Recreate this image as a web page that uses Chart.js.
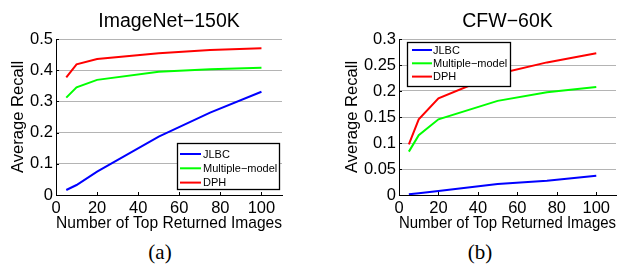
<!DOCTYPE html>
<html>
<head>
<meta charset="utf-8">
<script src="https://cdn.jsdelivr.net/npm/chart.js@4/dist/chart.umd.min.js"></script>
<style>
  html, body { margin: 0; padding: 0; background: #fff; }
  #wrap { position: relative; width: 640px; height: 270px; overflow: hidden; }
  .panel { position: absolute; top: 0; width: 320px; height: 240px; }
  .cap { position: absolute; top: 242px; width: 80px; text-align: center;
         font-family: "Liberation Serif", "Times New Roman", serif; font-size: 21px; line-height: 20px; color: #000; }
</style>
</head>
<body>
<div id="wrap">
  <div class="panel" style="left:0"><canvas id="cA" width="320" height="240"></canvas></div>
  <div class="panel" style="left:320px"><canvas id="cB" width="320" height="240"></canvas></div>
  <div class="cap" id="capA" style="left:120px"></div>
  <div class="cap" id="capB" style="left:440px"></div>
</div>
<script>
// ---- data ----
const xValues = [5, 10, 20, 50, 75, 100];
const seriesNames = ['JLBC', 'Multiple\u2212model', 'DPH'];
const imagenetJLBC  = [0.016, 0.032, 0.075, 0.187, 0.264, 0.331];
const imagenetMulti = [0.312, 0.345, 0.369, 0.395, 0.403, 0.408];
const imagenetDPH   = [0.377, 0.419, 0.436, 0.454, 0.465, 0.470];
const cfwJLBC  = [0.0013, 0.0035, 0.0077, 0.021, 0.0275, 0.037];
const cfwMulti = [0.0834, 0.115, 0.1455, 0.181, 0.1975, 0.2077];
const cfwDPH   = [0.0975, 0.1455, 0.186, 0.2327, 0.255, 0.2725];
const titles = ['ImageNet\u2212150K', 'CFW\u221260K'];
const captions = ['(a)', '(b)'];
const xTitle = 'Number of Top Returned Images';
const yTitle = 'Average Recall';
const xTicks = [0, 20, 40, 60, 80, 100];
const yTicksA = [0, 0.1, 0.2, 0.3, 0.4, 0.5];
const yTicksB = [0, 0.05, 0.1, 0.15, 0.2, 0.25, 0.3];

const colors = ['#0000ff', '#00ff00', '#ff0000'];
const FONT = '"Liberation Sans", Arial, Helvetica, sans-serif';

document.getElementById('capA').textContent = captions[0];
document.getElementById('capB').textContent = captions[1];

const decor = {
  id: 'decor',
  afterDatasetsDraw(chart, args, opts) {
    const ctx = chart.ctx, ca = chart.chartArea;
    const xs = chart.scales.x, ys = chart.scales.y;
    ctx.save();
    // inward ticks
    ctx.strokeStyle = '#000'; ctx.lineWidth = 1;
    ctx.beginPath();
    xs.ticks.forEach(t => {
      const px = Math.round(xs.getPixelForValue(t.value)) + 0.5;
      ctx.moveTo(px, ca.bottom); ctx.lineTo(px, ca.bottom - 3);
    });
    ys.ticks.forEach(t => {
      const py = Math.round(ys.getPixelForValue(t.value)) + 0.5;
      ctx.moveTo(ca.left, py); ctx.lineTo(ca.left + 3, py);
    });
    ctx.stroke();
    // legend box
    const L = opts.legend;
    ctx.fillStyle = '#fff';
    ctx.fillRect(L.x, L.y, L.w, L.h);
    ctx.strokeStyle = '#000'; ctx.lineWidth = 1.3;
    ctx.strokeRect(L.x + 0.5, L.y + 0.5, L.w, L.h);
    ctx.font = '11px ' + FONT;
    ctx.textBaseline = 'middle'; ctx.textAlign = 'left';
    chart.data.datasets.forEach((ds, i) => {
      const ry = L.y + L.row0 + i * L.gap;
      ctx.strokeStyle = ds.borderColor; ctx.lineWidth = 2;
      ctx.beginPath(); ctx.moveTo(L.x + L.l0, ry); ctx.lineTo(L.x + L.l1, ry); ctx.stroke();
      ctx.fillStyle = '#000';
      ctx.fillText(ds.label, L.x + L.tx, ry + 0.5);
    });
    // title
    ctx.font = '19.5px ' + FONT;
    ctx.textAlign = 'center'; ctx.textBaseline = 'alphabetic';
    ctx.fillStyle = '#000';
    ctx.fillText(opts.title, (ca.left + ca.right) / 2, 27);
    ctx.restore();
  }
};

function makeChart(id, series, yTicks, yMax, cfg) {
  return new Chart(document.getElementById(id), {
    type: 'line',
    data: {
      datasets: series.map((s, i) => ({
        label: seriesNames[i],
        data: xValues.map((x, j) => ({ x: x, y: s[j] })),
        borderColor: colors[i],
        borderWidth: 2,
        pointRadius: 0,
        tension: 0,
        fill: false
      }))
    },
    options: {
      responsive: false,
      animation: false,
      events: [],
      layout: { padding: { left: 0, right: cfg.padRight, top: 39, bottom: 0 } },
      plugins: {
        legend: { display: false },
        tooltip: { enabled: false },
        decor: { legend: cfg.legend, title: cfg.title }
      },
      scales: {
        x: {
          type: 'linear', min: 0, max: 110,
          afterBuildTicks: s => { s.ticks = xTicks.map(v => ({ value: v })); },
          afterFit: s => { s.height = 45; },
          ticks: { font: { family: FONT, size: 16.5 }, color: '#000', padding: 4, maxRotation: 0,
                   callback: v => String(v) },
          grid: { display: true, color: 'rgba(0,0,0,0)', drawTicks: false },
          border: { display: true, color: '#000', width: 1 },
          title: { display: true, text: xTitle, color: '#000',
                   font: { family: FONT, size: 16.6 }, padding: { top: 0, bottom: 7 } }
        },
        y: {
          type: 'linear', min: 0, max: yMax,
          afterBuildTicks: s => { s.ticks = yTicks.map(v => ({ value: v })); },
          afterFit: s => { s.width = cfg.yWidth; },
          ticks: { font: { family: FONT, size: 16.5 }, color: '#000', padding: 3,
                   callback: v => String(+v.toFixed(2)) },
          grid: { color: '#b4b4b4', lineWidth: 1, drawTicks: false,
                  borderDash: [1, 2] },
          border: { display: true, color: '#000', width: 1, dash: [] },
          title: { display: true, text: yTitle, color: '#000',
                   font: { family: FONT, size: 16.6 }, padding: { top: cfg.yTitlePad, bottom: 0 } }
        }
      }
    },
    plugins: [decor]
  });
}

makeChart('cA', [imagenetJLBC, imagenetMulti, imagenetDPH], yTicksA, 0.5, {
  padRight: 38, yWidth: 56, yTitlePad: 8, title: titles[0],
  legend: { x: 177, y: 143, w: 102, h: 46, row0: 11, gap: 14.3, l0: 3, l1: 24, tx: 26 }
});
makeChart('cB', [cfwJLBC, cfwMulti, cfwDPH], yTicksB, 0.3, {
  padRight: 24, yWidth: 79, yTitlePad: 22.5, title: titles[1],
  legend: { x: 87, y: 42, w: 103, h: 44, row0: 8, gap: 13.3, l0: 5, l1: 25, tx: 26 }
});
</script>
</body>
</html>
